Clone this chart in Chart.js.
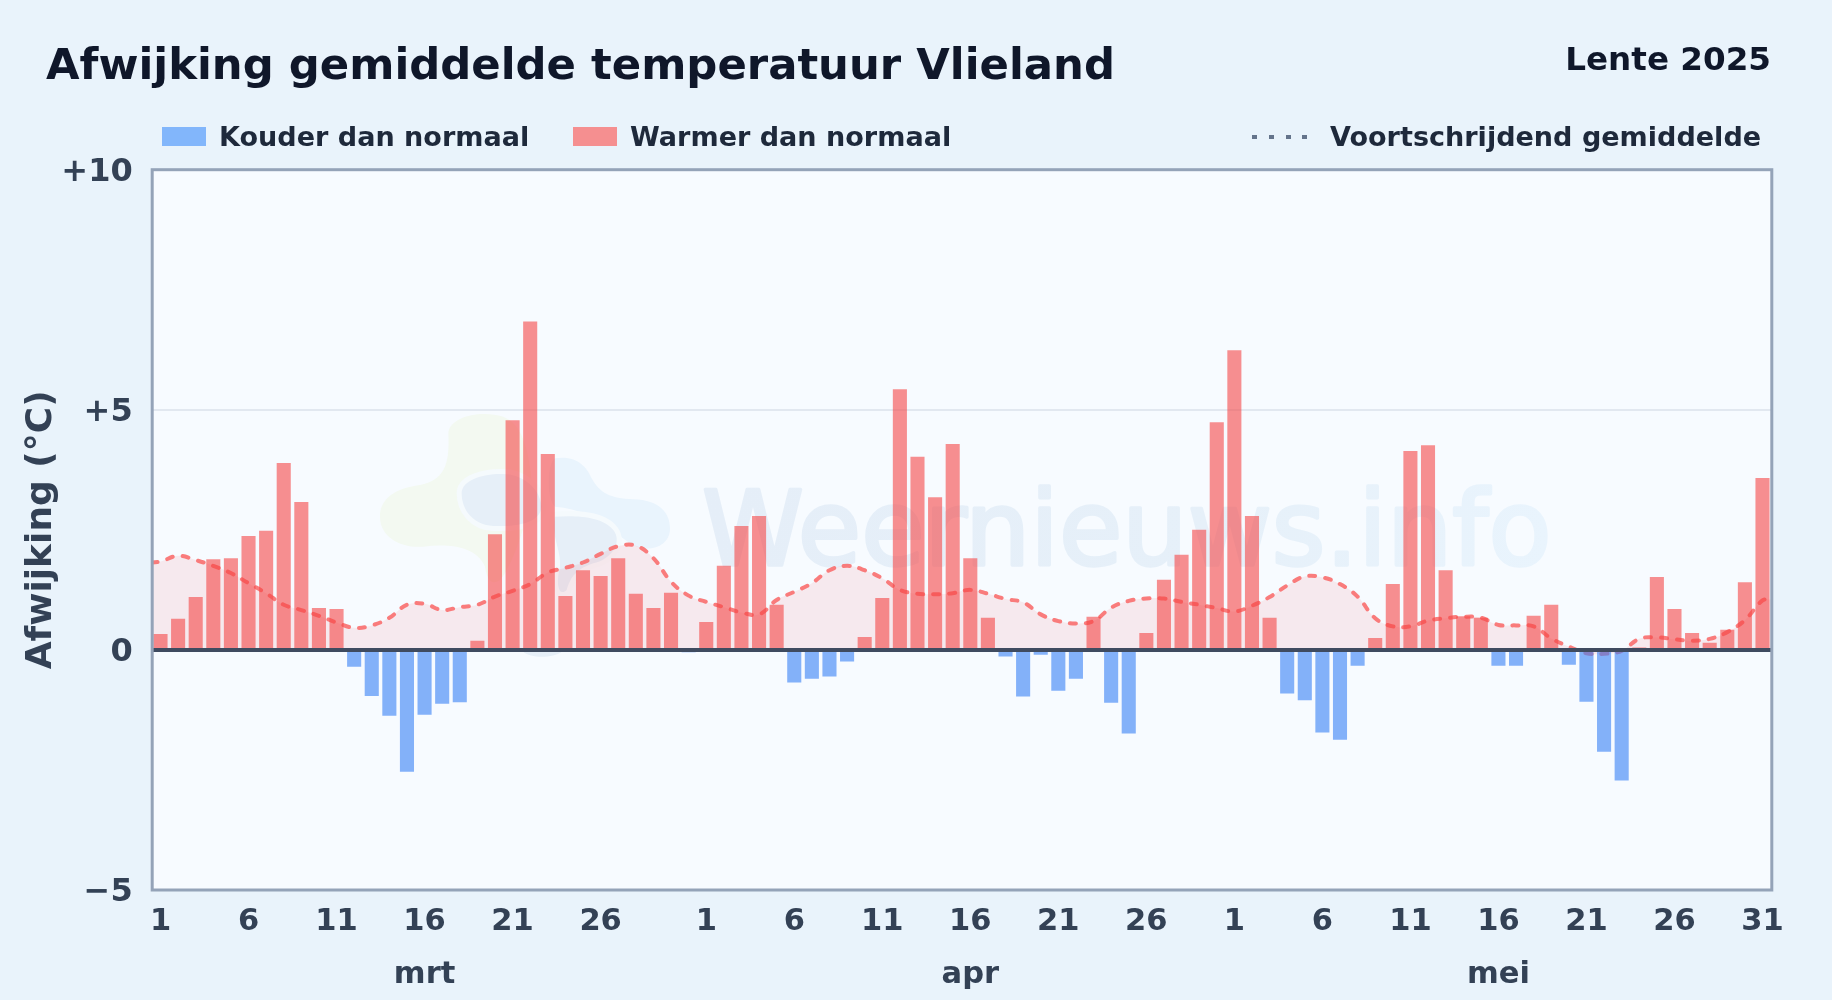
<!DOCTYPE html>
<html lang="nl">
<head>
<meta charset="utf-8">
<title>Afwijking gemiddelde temperatuur Vlieland</title>
<script src="https://cdn.jsdelivr.net/npm/chart.js@4"></script>
<style>
html,body{margin:0;padding:0;width:1832px;height:1000px;overflow:hidden;background:#e9f3fb;font-family:"DejaVu Sans",sans-serif;font-weight:700}
#wrap{position:relative;width:1832px;height:1000px}
canvas{position:absolute;left:0;top:0}
.t{position:absolute;white-space:nowrap;line-height:1}
#title{left:46px;top:43px;font-size:43.35px;color:#0f172a}
#season{right:61px;top:43px;font-size:32.6px;color:#0f172a}
.leg{font-size:27.05px;color:#1e293b;top:123px}
.sw{position:absolute;top:127px;width:44px;height:19px}
.dot{position:absolute;top:135px;width:5px;height:4px;background:#64748b}
</style>
</head>
<body>
<div id="wrap">
<canvas id="c" width="1832" height="1000"></canvas>
<div class="t" id="title"></div>
<div class="t" id="season"></div>
<div class="sw" style="left:162px;background:#82b6fb"></div>
<div class="t leg" id="l0" style="left:219px"></div>
<div class="sw" style="left:573px;background:#f58f90"></div>
<div class="t leg" id="l1" style="left:630px"></div>
<div class="dot" style="left:1252px"></div><div class="dot" style="left:1269px"></div><div class="dot" style="left:1286px"></div><div class="dot" style="left:1302px"></div>
<div class="t leg" id="l2" style="left:1330px"></div>
</div>
<script>
const titleText = 'Afwijking gemiddelde temperatuur Vlieland';
const seasonText = 'Lente 2025';
const legendLabels = ['Kouder dan normaal', 'Warmer dan normaal', 'Voortschrijdend gemiddelde'];
const yAxisTitle = 'Afwijking (°C)';
const watermarkText = 'Weernieuws.info';

const mrtValues = [.33,.65,1.10,1.89,1.91,2.37,2.48,3.89,3.08,.87,.85,-.35,-.96,-1.37,-2.54,-1.35,-1.12,-1.09,.19,2.41,4.78,6.84,4.08,1.12,1.66,1.54,1.91,1.17,.87,1.19,-.05];
const aprValues = [.58,1.75,2.58,2.79,.94,-.68,-.6,-.555,-.24,.27,1.08,5.43,4.02,3.18,4.29,1.91,.67,-.14,-.97,-.1,-.85,-.6,.69,-1.1,-1.74,.35,1.46,1.98,2.5,4.74];
const meiValues = [6.24,2.79,.67,-.91,-1.05,-1.72,-1.87,-.33,.25,1.37,4.14,4.26,1.66,.7,.67,-.33,-.33,.71,.94,-.31,-1.08,-2.12,-2.72,.05,1.52,.85,.35,.15,.42,1.41,3.58];

const mrtAverage = [1.84,1.96,1.87,1.75,1.6,1.39,1.18,.94,.83,.71,.57,.46,.51,.67,.94,.96,.83,.89,.94,1.11,1.23,1.37,1.61,1.71,1.82,2.0,2.16,2.17,1.91,1.42,1.13];
const aprAverage = [1.0,.89,.78,.74,1.04,1.21,1.39,1.66,1.75,1.66,1.49,1.25,1.17,1.16,1.18,1.25,1.17,1.06,.99,.74,.6,.55,.6,.88,1.02,1.07,1.07,1.0,.94,.87];
const meiAverage = [.8,.92,1.1,1.34,1.53,1.51,1.37,1.11,.66,.49,.49,.61,.66,.69,.67,.52,.51,.49,.24,.07,-.07,-.08,-.02,.23,.26,.22,.19,.23,.37,.62,1.03];
const averageAtLeftEdge = 1.82;
const averageAtRightEdge = 1.05;

const tickPositions = [1,6,11,16,21,26, 32,37,42,47,52,57, 62,67,72,77,82,87,92];
const tickLabels = ['1','6','11',['16','mrt'],'21','26', '1','6','11',['16','apr'],'21','26', '1','6','11',['16','mei'],'21','26','31'];
const yTicks = [-5,0,5,10];
const yTickLabels = ['−5','0','+5','+10'];

const COLD = 'rgba(59,130,246,.62)';
const WARM = 'rgba(245,70,70,.6)';
const LEFT = 151.7, RIGHT = 1771.3, TOP = 169.7, BOTTOM = 890;

document.getElementById('title').textContent = titleText;
document.getElementById('season').textContent = seasonText;
legendLabels.forEach((s,i)=>document.getElementById('l'+i).textContent = s);

const allValues = [...mrtValues, ...aprValues, ...meiValues];
const allAverage = [...mrtAverage, ...aprAverage, ...meiAverage];
const barPoints = allValues.map((y,i)=>({x:i+1,y}));
const linePoints = [{x:.5,y:averageAtLeftEdge}, ...allAverage.map((y,i)=>({x:i+1,y})), {x:allValues.length+.5,y:averageAtRightEdge}];

function blob(ctx, d){ // decorative watermark logo, given in a local design grid
  const p=(x,y)=>[370+x/3,400+y/3];
  ctx.beginPath();
  d.forEach(s=>{
    if(s.length===2){ctx.moveTo(...p(s[0],s[1]));}
    else{ctx.bezierCurveTo(...p(s[0],s[1]),...p(s[2],s[3]),...p(s[4],s[5]));}
  });
  ctx.closePath();
}
function nudgeLabels(scale, dy){
  if(scale._nudged) return;
  scale._nudged = true;
  const orig = scale._computeLabelItems;
  scale._computeLabelItems = function(a){
    const items = orig.call(this,a);
    items.forEach(it=>{it.textOffset += dy;});
    return items;
  };
}
const frame = {
  id:'frame',
  beforeDraw(chart){
    const {ctx,chartArea:a}=chart;
    ctx.save();
    ctx.fillStyle='#f7fbff';
    ctx.fillRect(a.left,a.top,a.width,a.height);
    // watermark logo
    blob(ctx,[[235,100],[240,50,330,30,400,50],[450,70,470,130,480,200],[500,300,430,500,390,540],[360,560,350,530,345,500],[320,440,240,430,160,440],[90,445,30,410,30,350],[30,300,70,265,150,255],[220,240,240,200,235,100]]);
    ctx.fillStyle='#f3f9f1'; ctx.fill();
    blob(ctx,[[555,175],[620,165,650,200,665,235],[690,280,720,295,790,298],[870,300,900,340,900,385],[900,430,860,450,820,445],[760,440,700,330,555,320],[530,300,530,190,555,175]]);
    ctx.fillStyle='#e9f4fd'; ctx.fill();
    const d1=[[275,280],[275,240,340,220,400,222],[450,222,510,260,515,320],[510,370,440,380,370,378],[310,375,275,330,275,280]];
    const d2=[[555,350],[620,345,700,350,730,390],[760,430,720,480,670,490],[610,510,600,540,590,570],[570,590,555,560,570,500],[575,450,540,400,555,350]];
    const d3=[[460,755],[490,745,550,745,575,755],[550,775,480,775,460,755]];
    [d1,d2].forEach(d=>{blob(ctx,d);ctx.strokeStyle='#f5fafd';ctx.lineWidth=10;ctx.stroke();});
    [d1,d2,d3].forEach(d=>{blob(ctx,d);ctx.fillStyle='#e6eff8';ctx.fill();});
    // watermark text
    const grad=ctx.createLinearGradient(701,0,1548,0);
    grad.addColorStop(0,'#e5eef8');grad.addColorStop(.6,'#e6f0f9');grad.addColorStop(1,'#e9f4fd');
    ctx.font='400 103px "DejaVu Sans"';
    ctx.fillStyle=grad;ctx.strokeStyle=grad;ctx.lineWidth=3.5;ctx.lineJoin='round';
    ctx.textBaseline='alphabetic';
    ctx.textAlign='left';
    ctx.strokeText(watermarkText,702,565);
    ctx.fillText(watermarkText,702,565);
    ctx.restore();
  },
  afterDatasetsDraw(chart){
    const {ctx,chartArea:a,scales}=chart;
    ctx.save();
    const y0=scales.y.getPixelForValue(0);
    ctx.strokeStyle='#3f4b60';ctx.lineWidth=4;
    ctx.beginPath();ctx.moveTo(a.left,y0);ctx.lineTo(a.right,y0);ctx.stroke();
    ctx.strokeStyle='#94a3b8';ctx.lineWidth=3;
    ctx.strokeRect(a.left+.5,a.top,a.width,a.height);
    ctx.restore();
  }
};

new Chart(document.getElementById('c'),{
  data:{datasets:[
    {type:'line',label:legendLabels[2],data:linePoints,order:2,
     borderColor:'rgba(248,113,113,.92)',borderWidth:4,borderDash:[6,10],borderCapStyle:'round',
     tension:.4,pointRadius:0,fill:'origin',backgroundColor:'rgba(245,80,90,.1)'},
    {type:'bar',label:legendLabels[1],data:barPoints,order:1,
     backgroundColor:c=>c.raw&&c.raw.y<0?COLD:WARM,borderWidth:0,
     barPercentage:.8,categoryPercentage:1}
  ]},
  options:{
    responsive:false,animation:false,devicePixelRatio:1,
    layout:{padding:{left:20,right:1832-RIGHT,top:TOP,bottom:0}},
    plugins:{legend:{display:false},tooltip:{enabled:false}},
    scales:{
      x:{type:'linear',offset:false,min:.5,max:allValues.length+.5,
        afterBuildTicks:s=>{s.ticks=tickPositions.map(v=>({value:v}));},
        afterFit:s=>{s.height=1000-BOTTOM;nudgeLabels(s,-16);},
        grid:{display:false},border:{display:false},
        ticks:{autoSkip:false,maxRotation:0,padding:14,color:'#334155',
          font:{family:'"DejaVu Sans"',weight:'700',size:30.5,lineHeight:1.72},
          callback:v=>tickLabels[tickPositions.indexOf(v)]}},
      y:{min:-5,max:10,
        afterBuildTicks:s=>{s.ticks=yTicks.map(v=>({value:v}));},
        afterFit:s=>{s.width=LEFT-20;nudgeLabels(s,2.5);},
        title:{display:true,text:yAxisTitle,color:'#334155',padding:{top:0,bottom:0},
          font:{family:'"DejaVu Sans"',weight:'700',size:36}},
        grid:{drawTicks:false,lineWidth:2,color:c=>c.tick.value===5?'#e2e8f0':'transparent'},
        border:{display:false},
        ticks:{padding:19,color:'#334155',font:{family:'"DejaVu Sans"',weight:'700',size:32},
          callback:v=>yTickLabels[yTicks.indexOf(v)]}}
    }
  },
  plugins:[frame]
});
</script>
</body>
</html>
